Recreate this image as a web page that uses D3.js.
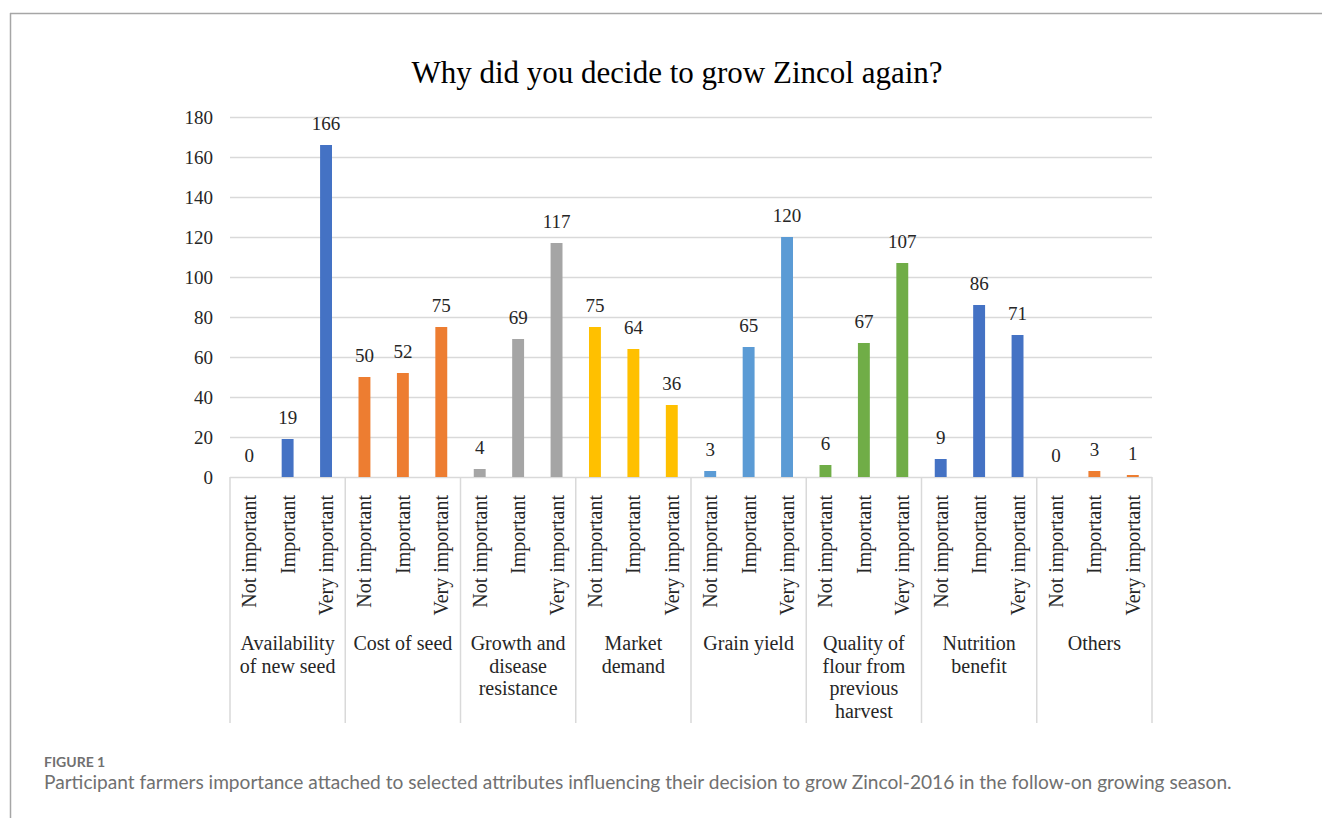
<!DOCTYPE html>
<html>
    <head>
        <meta charset="UTF-8">
        <title>Zincol</title>
        <style>
            body { margin: 0; background: #fff; }
            svg { display: block; }
        </style>
    </head>
    <body>
        <script src="https://d3js.org/d3.v7.min.js"></script>
        <svg></svg>
        <script>
            let groups = [
                ["Availability", "of new seed"],
                ["Cost of seed"],
                ["Growth and", "disease", "resistance"],
                ["Market", "demand"],
                ["Grain yield"],
                ["Quality of", "flour from", "previous", "harvest"],
                ["Nutrition", "benefit"],
                ["Others"]
            ];
            let levels = ["Not important", "Important", "Very important"];
            let values = [
                [0, 19, 166],
                [50, 52, 75],
                [4, 69, 117],
                [75, 64, 36],
                [3, 65, 120],
                [6, 67, 107],
                [9, 86, 71],
                [0, 3, 1]
            ];
            let groupColors = ["#4472C4", "#ED7D31", "#A5A5A5", "#FFC000", "#5B9BD5", "#70AD47", "#4472C4", "#ED7D31"];
            let yTicks = [0, 20, 40, 60, 80, 100, 120, 140, 160, 180];

            let W = 1322, H = 818;
            let svg = d3.select("svg")
                .attr("width", W)
                .attr("height", H);

            // frame of the figure panel
            svg.append("line").attr("x1", 10).attr("x2", W).attr("y1", 13.5).attr("y2", 13.5)
                .attr("stroke", "#a6a6a6").attr("stroke-width", 1.5);
            svg.append("line").attr("x1", 10.5).attr("x2", 10.5).attr("y1", 13).attr("y2", H)
                .attr("stroke", "#a6a6a6").attr("stroke-width", 1.5);

            let plotL = 230, plotR = 1152, plotT = 117, plotB = 477;
            let serif = "'Liberation Serif', 'Times New Roman', serif";

            let x = d3.scaleBand()
                .domain(d3.range(groups.length))
                .range([plotL, plotR]);
            let xi = d3.scaleBand()
                .domain(levels)
                .range([0, x.bandwidth()])
                .paddingInner(0.69)
                .paddingOuter(0.345);
            let y = d3.scaleLinear()
                .domain([0, 180])
                .range([plotB, plotT]);

            // title
            svg.append("text")
                .attr("x", 677)
                .attr("y", 83)
                .attr("text-anchor", "middle")
                .attr("font-family", serif)
                .attr("font-size", 31)
                .attr("fill", "#000")
                .text("Why did you decide to grow Zincol again?");

            // gridlines
            svg.append("g")
                .selectAll("line")
                .data(yTicks)
                .enter()
                .append("line")
                .attr("x1", plotL)
                .attr("x2", plotR)
                .attr("y1", d => Math.round(y(d)) + 0.5)
                .attr("y2", d => Math.round(y(d)) + 0.5)
                .attr("stroke", "#d9d9d9")
                .attr("stroke-width", 1.5);

            // y axis labels
            let yAxis = svg.append("g")
                .attr("transform", "translate(" + plotL + ",0)")
                .call(d3.axisLeft(y).tickValues(yTicks).tickSize(0).tickPadding(17));
            yAxis.select(".domain").remove();
            yAxis.selectAll("text")
                .attr("font-family", serif)
                .attr("font-size", 19)
                .attr("fill", "#262626");

            // category separators below the axis
            svg.append("g")
                .selectAll("line")
                .data(d3.range(groups.length + 1))
                .enter()
                .append("line")
                .attr("x1", d => d < groups.length ? x(d) : plotR)
                .attr("x2", d => d < groups.length ? x(d) : plotR)
                .attr("y1", plotB)
                .attr("y2", 723)
                .attr("stroke", "#d9d9d9")
                .attr("stroke-width", 1.5);

            // bars and labels
            let g = svg.append("g")
                .selectAll("g")
                .data(values)
                .enter()
                .append("g")
                .attr("transform", (d, i) => "translate(" + x(i) + ",0)");

            g.selectAll("rect")
                .data((d, i) => d.map((v, j) => ({v: v, lev: levels[j], c: groupColors[i]})))
                .enter()
                .append("rect")
                .attr("x", d => xi(d.lev))
                .attr("width", xi.bandwidth())
                .attr("y", d => y(d.v))
                .attr("height", d => y(0) - y(d.v))
                .attr("fill", d => d.c);

            g.selectAll("text.val")
                .data(d => d.map((v, j) => ({v: v, lev: levels[j]})))
                .enter()
                .append("text")
                .attr("class", "val")
                .attr("x", d => xi(d.lev) + xi.bandwidth() / 2)
                .attr("y", d => y(d.v) - 15)
                .attr("text-anchor", "middle")
                .attr("font-family", serif)
                .attr("font-size", 19)
                .attr("fill", "#262626")
                .text(d => d.v);

            // rotated level labels
            g.selectAll("text.lev")
                .data(levels)
                .enter()
                .append("text")
                .attr("class", "lev")
                .attr("transform", d => "translate(" + (xi(d) + xi.bandwidth() / 2) + ",495) rotate(-90)")
                .attr("dy", "0.35em")
                .attr("text-anchor", "end")
                .attr("font-family", serif)
                .attr("font-size", 20)
                .attr("fill", "#262626")
                .text(d => d);

            // group labels
            svg.append("g")
                .selectAll("text")
                .data(groups)
                .enter()
                .append("text")
                .attr("x", (d, i) => x(i) + x.bandwidth() / 2)
                .attr("y", 650)
                .attr("text-anchor", "middle")
                .attr("font-family", serif)
                .attr("font-size", 20)
                .attr("fill", "#262626")
                .selectAll("tspan")
                .data(d => d)
                .enter()
                .append("tspan")
                .attr("x", function() { return this.parentNode.getAttribute("x"); })
                .attr("dy", (d, i) => i === 0 ? 0 : 22.7)
                .text(d => d);

            // caption
            svg.append("text")
                .attr("x", 44)
                .attr("y", 767)
                .attr("font-family", "Lato, 'Open Sans', sans-serif")
                .attr("font-weight", 700)
                .attr("font-size", 14)
                .attr("fill", "#707070")
                .text("FIGURE 1");

            let cap = svg.append("text")
                .attr("x", 44)
                .attr("y", 789)
                .attr("font-family", "Lato, 'Open Sans', sans-serif")
                .attr("font-size", 18)
                .attr("fill", "#707070")
                .text("Participant farmers importance attached to selected attributes influencing their decision to grow Zincol-2016 in the follow-on growing season.");
            let capW = cap.node().getComputedTextLength();
            cap.attr("font-size", 18 * 1188 / capW);
        </script>
    </body>
</html>
